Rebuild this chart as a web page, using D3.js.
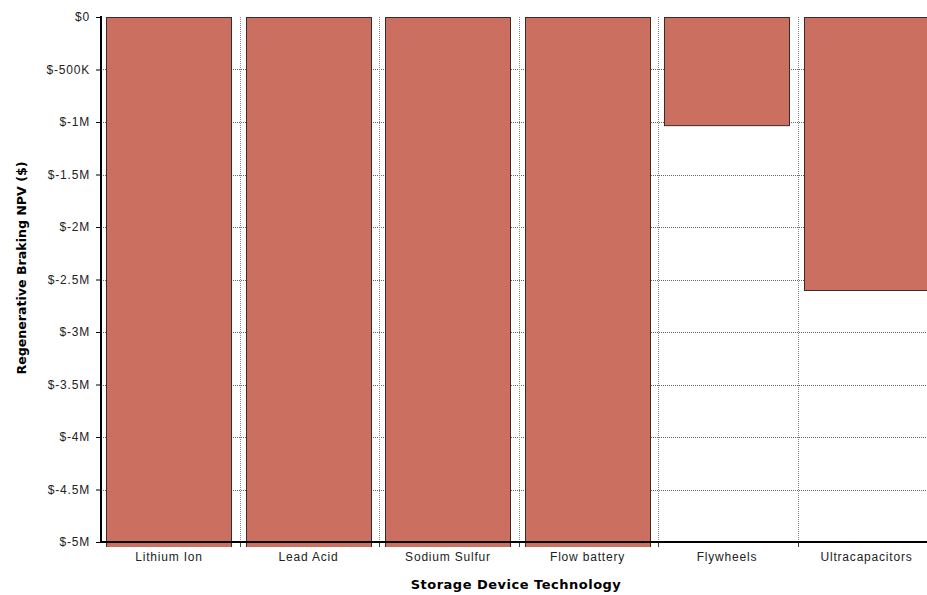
<!DOCTYPE html>
<html><head><meta charset="utf-8">
<script src="https://cdn.jsdelivr.net/npm/d3@7"></script>
<style>body{margin:0;background:#fff;}svg{display:block;font-family:Arial,"Liberation Sans",sans-serif;}</style>
</head><body>
<svg id="c" width="927" height="595"></svg>
<script>
const categories = ["Lithium Ion","Lead Acid","Sodium Sulfur","Flow battery","Flywheels","Ultracapacitors"];
const npvValues = [-5050000,-5050000,-5050000,-5050000,-1030000,-2600000];
const yTicks = [0,-500000,-1000000,-1500000,-2000000,-2500000,-3000000,-3500000,-4000000,-4500000,-5000000];
const yTickLabels = ["$0","$-500K","$-1M","$-1.5M","$-2M","$-2.5M","$-3M","$-3.5M","$-4M","$-4.5M","$-5M"];

(function(){
const svg = d3.select("#c");
const pLeft = 101, pTop = 17, pBottom = 542;
const step = 139.5, pi = 0.105, po = 0.04;
const pRight = pLeft + step*(categories.length - pi + 2*po);
const gridRight = pLeft + step*categories.length;

const x = d3.scaleBand().domain(categories).range([pLeft, pRight]).paddingInner(pi).paddingOuter(po);
const y = d3.scaleLinear().domain([0,-5000000]).range([pTop, pBottom]);

svg.append("defs").append("clipPath").attr("id","pc")
  .append("rect").attr("x",pLeft).attr("y",pTop).attr("width",gridRight-pLeft).attr("height",pBottom-pTop+5);

// grid
const g = svg.append("g");
g.selectAll("line.h").data(yTicks.slice(1,-1)).join("line")
  .attr("x1",pLeft).attr("x2",gridRight).attr("y1",d=>Math.round(y(d))+0.5).attr("y2",d=>Math.round(y(d))+0.5)
  .attr("stroke","#666").attr("stroke-width",1).attr("stroke-dasharray","1,1");
const bounds = d3.range(1,categories.length).map(i=>pLeft+i*step);
g.selectAll("line.v").data(bounds).join("line")
  .attr("x1",d=>Math.round(d)-0.5).attr("x2",d=>Math.round(d)-0.5).attr("y1",pTop).attr("y2",pBottom)
  .attr("stroke","#888").attr("stroke-width",1).attr("stroke-dasharray","1,1");

// bars
svg.append("g").attr("clip-path","url(#pc)").selectAll("rect").data(categories).join("rect")
  .attr("x",d=>Math.floor(x(d))+0.5).attr("y",pTop+0.5)
  .attr("width",Math.round(x.bandwidth())).attr("height",(d,i)=>y(npvValues[i])-pTop)
  .attr("fill","#cb6f61").attr("stroke","#3a2a28").attr("stroke-width",1);

const txt = sel => sel.attr("font-family","Arial,'Liberation Sans',sans-serif").attr("font-size","12px")
  .attr("letter-spacing","0.8px").attr("fill","#222");

// axes
const ya = svg.append("g").attr("transform",`translate(${pLeft},0)`)
  .call(d3.axisLeft(y).tickValues(yTicks).tickFormat((d,i)=>yTickLabels[i]).tickSize(5).tickPadding(6));
ya.select(".domain").remove();
ya.selectAll("line").attr("stroke","#000");
txt(ya.selectAll("text"));
svg.append("line").attr("x1",pLeft).attr("x2",pLeft).attr("y1",pTop-1).attr("y2",pBottom+1).attr("stroke","#000").attr("stroke-width",2);

const xa = svg.append("g").attr("transform",`translate(0,${pBottom})`)
  .call(d3.axisBottom(x).tickSize(0).tickPadding(10));
xa.select(".domain").remove();
txt(xa.selectAll("text"));
svg.append("g").selectAll("line").data(bounds).join("line")
  .attr("x1",d=>Math.round(d)-0.5).attr("x2",d=>Math.round(d)-0.5).attr("y1",pBottom).attr("y2",pBottom+5).attr("stroke","#444");
svg.append("line").attr("x1",pLeft-1).attr("x2",gridRight).attr("y1",pBottom).attr("y2",pBottom).attr("stroke","#000").attr("stroke-width",2);

svg.append("text").attr("x",516).attr("y",589).attr("text-anchor","middle")
  .attr("font-family","'DejaVu Sans',Verdana,sans-serif").attr("font-size","13px")
  .attr("font-weight","bold").attr("letter-spacing","0.5px").attr("fill","#000").text("Storage Device Technology");
svg.append("text").attr("transform","translate(26,268) rotate(-90)").attr("text-anchor","middle")
  .attr("font-family","'DejaVu Sans',Verdana,sans-serif").attr("font-size","12.6px")
  .attr("font-weight","bold").attr("fill","#000").text("Regenerative Braking NPV ($)");
})();
</script>
</body></html>
